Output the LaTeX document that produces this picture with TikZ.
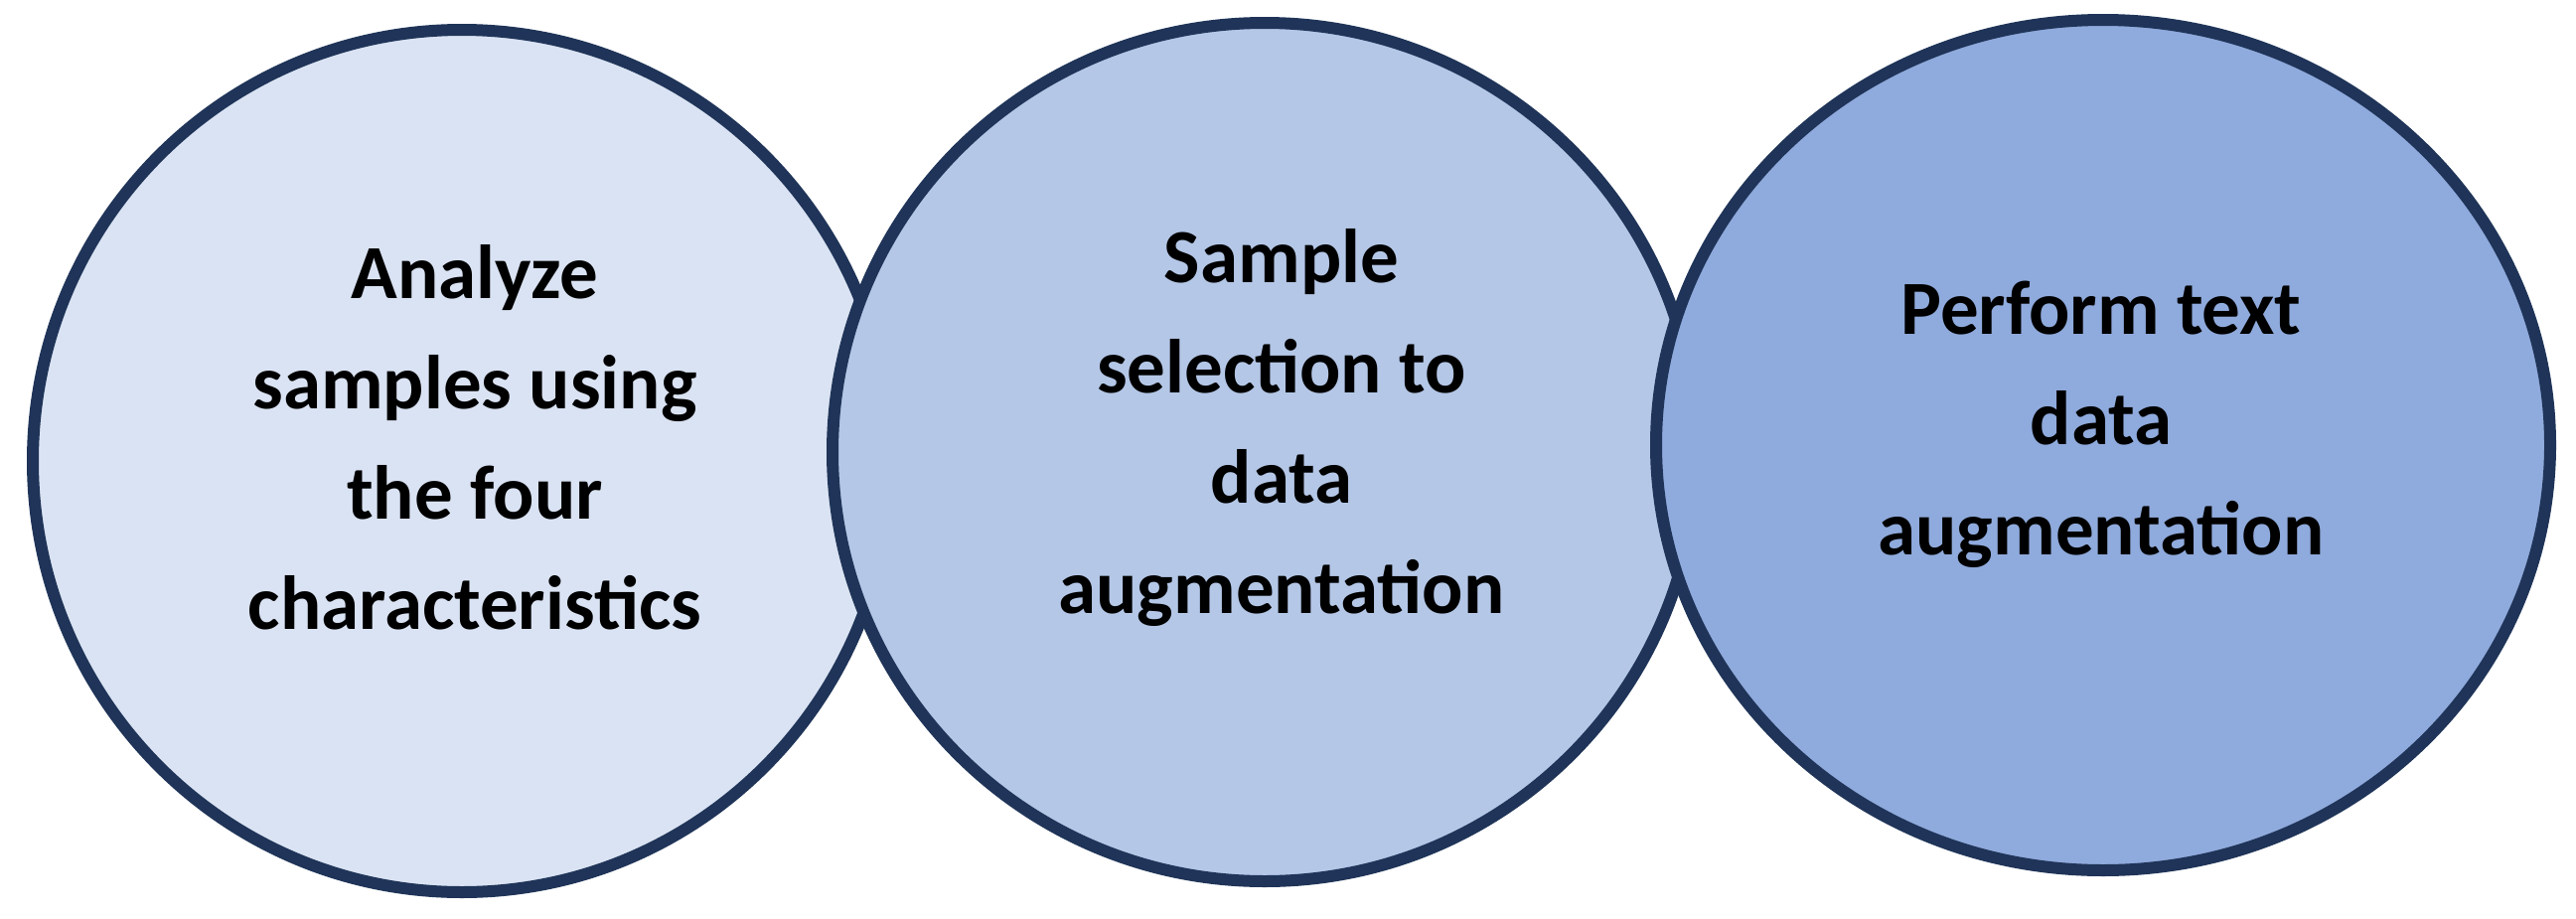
\documentclass[tikz,border=0pt]{standalone}
\usepackage{fontspec}
\setmainfont{Carlito}
\begin{document}
\begin{tikzpicture}[x=1pt,y=-1pt,
  circ/.style={draw=edge,line width=12pt},
  lbl/.style={align=center,font=\fontsize{77}{111}\selectfont\bfseries}]
\definecolor{edge}{HTML}{1F3458}
\definecolor{cA}{HTML}{DAE3F3}
\definecolor{cB}{HTML}{B4C7E7}
\definecolor{cC}{HTML}{8FAADC}
\useasboundingbox (0,0) rectangle (2593,924);
\fill[white] (0,0) rectangle (2593,924);
\draw[circ,fill=cA] (465,464) ellipse [x radius=432,y radius=434];
\draw[circ,fill=cB] (1273,455) ellipse [x radius=435,y radius=432];
\draw[circ,fill=cC] (2117,448) ellipse [x radius=450,y radius=428];
\node[lbl] (a) at (478,440) {Analyze\\samples using\\the four\\characteristics};
\node[lbl] (b) at (1290,430) {Sample\\selection to\\data\\augmentation};
\node[lbl] (c) at (2115,427) {Perform text\\data\\augmentation};
\end{tikzpicture}
\end{document}
